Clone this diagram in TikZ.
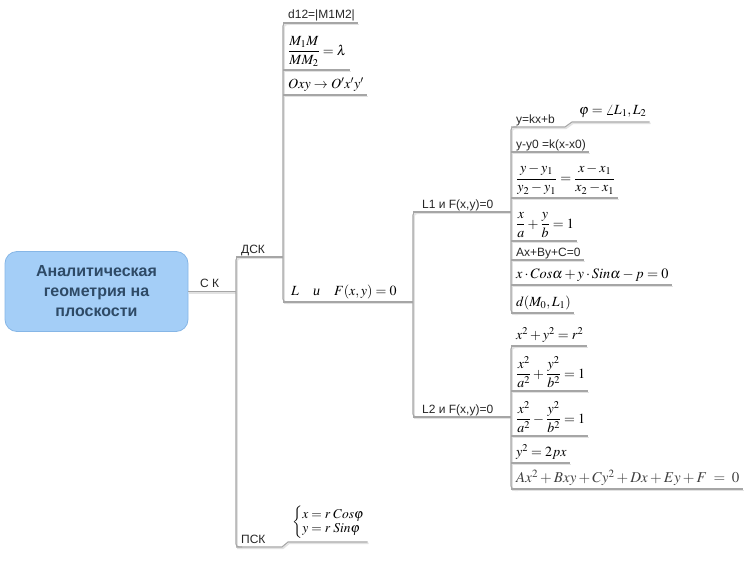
\documentclass[tikz,border=0pt]{standalone}
\usepackage{mathptmx}
\usepackage[no-math]{fontspec}
\newfontfamily\lblfont{Liberation Sans}
\newfontfamily\rmitfont{Liberation Serif}
\definecolor{rootfill}{HTML}{A4CEF7}
\definecolor{rootdraw}{HTML}{86B6E6}
\definecolor{roottext}{HTML}{2E4A66}
\definecolor{linec}{HTML}{A6A6A6}
\definecolor{shadowc}{HTML}{E2E2E2}
\tikzset{
  lbl/.style={font=\lblfont\fontsize{12}{14}\selectfont, inner sep=0pt, anchor=base west, text=black!85},
  fml/.style={font=\fontsize{14}{16}\selectfont, inner sep=0pt, anchor=south west},
  ln/.style={draw=linec, line width=1.1pt,
    preaction={draw=shadowc, line width=1.6pt, transform canvas={shift={(1pt,-1.3pt)}}}},
  vl/.style={ln, rounded corners=3pt},
  rootbox/.style={draw=rootdraw, fill=rootfill, line width=0.8pt, rounded corners=12pt,
    minimum width=183pt, minimum height=80pt, align=center, text=roottext,
    font=\lblfont\bfseries\fontsize{16}{20}\selectfont}
}
\begin{document}
\begin{tikzpicture}[x=1pt,y=-1pt]
\useasboundingbox (0,0) rectangle (755,562);
% root
\node[rootbox] (root) at (96.5,291.5) {Аналитическая\\геометрия на\\плоскости};
\node[lbl] (sk) at (200,287) {С К};
\coordinate (jsk) at (236,291.5);
\draw[ln] (root.east) -- (jsk);
% level 1
\coordinate (jdsk) at (236,257);
\coordinate (jpsk) at (236,547);
\node[lbl] (dsk) at (241,253) {ДСК};
\node[lbl] (psk) at (241,543) {ПСК};
\node[fml, font=\fontsize{13.5}{15}\selectfont] (pskf) at (292,539)
  {$\left\{\renewcommand{\arraystretch}{0.95}\begin{array}{@{}l@{}} x=r\;Cos\varphi\\ y=r\;Sin\varphi\end{array}\right.$};
\draw[vl] ([xshift=6pt]jdsk) -- (jdsk) -- (jpsk) -- ([xshift=6pt]jpsk);
\coordinate (jd12) at (283,23);
\draw[ln] (jdsk) -- (jdsk -| jd12);
\draw[ln] (jpsk) -- (282,547) -- (288,542) -- ([xshift=3pt]pskf.south east |- 0,542);
% level 2 (ДСК)
\coordinate (jfr1) at (283,70);
\coordinate (joxy) at (283,95);
\coordinate (jlf) at (283,302);
\node[lbl] (d12) at (288,19) {d12=|M1M2|};
\node[fml] (fr1) at (288,67) {$\displaystyle\frac{M_1M}{MM_2}=\lambda$};
\node[fml] (oxy) at (288,92) {$Oxy\to O'x'y'$};
\node[fml] (lf) at (291,299) {$L\quad\mbox{\rmitfont\itshape и}\quad F(x,y)=0$};
\draw[vl] ([xshift=6pt]jd12) -- (jd12) -- (jlf) -- ([xshift=6pt]jlf);
\draw[ln] (jd12) -- (d12.east |- jd12) -- ++(3,0);
\draw[ln] (jfr1) -- (fr1.east |- jfr1) -- ++(3,0);
\draw[ln] (joxy) -- (oxy.east |- joxy) -- ++(3,0);
\coordinate (jl1) at (413,212);
\coordinate (jl2) at (413,417);
\draw[ln] (jlf) -- (jlf -| jl1);
% level 3
\node[lbl] (l1) at (422,208) {L1 и F(x,y)=0};
\node[lbl] (l2) at (422,413) {L2 и F(x,y)=0};
\draw[vl] ([xshift=6pt]jl1) -- (jl1) -- (jl2) -- ([xshift=6pt]jl2);
\coordinate (jykx) at (511,127);
\coordinate (jdm) at (511,313);
\coordinate (jcirc) at (511,346);
\coordinate (jgen) at (511,489);
\draw[ln] (jl1) -- (jl1 -| jykx);
\draw[ln] (jl2) -- (jl2 -| jykx);
% L1 children
\coordinate (jyy0) at (511,152);
\coordinate (jfr2) at (511,198);
\coordinate (jxa) at (511,241);
\coordinate (jaxby) at (511,260);
\coordinate (jxcos) at (511,285);
\node[lbl] (ykx) at (516,123) {y=kx+b};
\node[fml] (phi) at (579,118) {$\varphi=\angle L_1,L_2$};
\node[lbl] (yy0) at (516,148) {y-y0 =k(x-x0)};
\node[fml] (fr2) at (516,195) {$\displaystyle\frac{y-y_1}{y_2-y_1}=\frac{x-x_1}{x_2-x_1}$};
\node[fml] (xa) at (516,238) {$\displaystyle\frac{x}{a}+\frac{y}{b}=1$};
\node[lbl] (axby) at (516,256) {Ax+By+C=0};
\node[fml, font=\fontsize{14.3}{16}\selectfont] (xcos) at (516,282) {$x\cdot Cos\alpha+y\cdot Sin\alpha-p=0$};
\node[fml] (dm) at (516,310) {$d(M_0,L_1)$};
\draw[vl] ([xshift=6pt]jykx) -- (jykx) -- (jdm) -- ([xshift=6pt]jdm);
\draw[ln] (jykx) -- (565,127) -- (572,122) -- ([xshift=3pt]phi.south east |- 0,122);
\draw[ln] (jyy0) -- (yy0.east |- jyy0) -- ++(3,0);
\draw[ln] (jfr2) -- (fr2.east |- jfr2) -- ++(3,0);
\draw[ln] (jxa) -- (xa.east |- jxa) -- ++(3,0);
\draw[ln] (jaxby) -- (axby.east |- jaxby) -- ++(3,0);
\draw[ln] (jxcos) -- (xcos.east |- jxcos) -- ++(3,0);
\draw[ln] (jdm) -- (dm.east |- jdm) -- ++(3,0);
% L2 children
\coordinate (jell) at (511,391);
\coordinate (jhyp) at (511,436);
\coordinate (jpar) at (511,463);
\node[fml] (circ) at (516,343) {$x^2+y^2=r^2$};
\node[fml] (ell) at (516,388) {$\displaystyle\frac{x^2}{a^2}+\frac{y^2}{b^2}=1$};
\node[fml] (hyp) at (516,433) {$\displaystyle\frac{x^2}{a^2}-\frac{y^2}{b^2}=1$};
\node[fml] (par) at (516,460) {$y^2=2px$};
\node[fml, font=\fontsize{15}{17}\selectfont, text=black!75] (gen) at (516,486) {$Ax^2+Bxy+Cy^2+Dx+Ey+F\;=\;0$};
\draw[vl] ([xshift=6pt]jcirc) -- (jcirc) -- (jgen) -- ([xshift=6pt]jgen);
\draw[ln] (jcirc) -- (circ.east |- jcirc) -- ++(3,0);
\draw[ln] (jell) -- (ell.east |- jell) -- ++(3,0);
\draw[ln] (jhyp) -- (hyp.east |- jhyp) -- ++(3,0);
\draw[ln] (jpar) -- (par.east |- jpar) -- ++(3,0);
\draw[ln] (jgen) -- (gen.east |- jgen) -- ++(3,0);
\end{tikzpicture}
\end{document}
